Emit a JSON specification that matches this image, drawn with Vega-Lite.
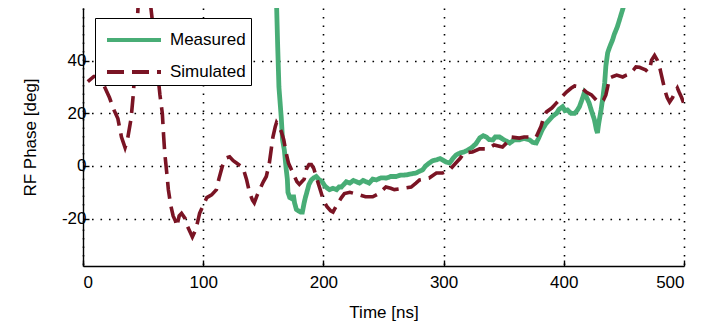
{
  "$schema": "https://vega.github.io/schema/vega-lite/v6.json",
  "width": 601,
  "height": 258,
  "autosize": {"type": "none"},
  "padding": {"left": 83, "top": 8, "right": 26, "bottom": 60},
  "background": "white",
  "config": {
    "view": {"stroke": null},
    "font": "Liberation Sans",
    "axis": {
      "domainColor": "black",
      "domainWidth": 1.4,
      "tickColor": "black",
      "tickWidth": 1.4,
      "tickSize": -6,
      "grid": true,
      "gridColor": "black",
      "gridOpacity": 1,
      "gridWidth": 1.6,
      "gridDash": [1.6, 6.9],
      "labelFont": "Liberation Sans",
      "labelFontSize": 17,
      "labelColor": "black",
      "titleFont": "Liberation Sans",
      "titleFontSize": 17,
      "titleFontWeight": "normal",
      "titleColor": "black"
    }
  },
  "datasets": {
    "measured": [
      {"series": "Measured", "time": 160, "phase": 85},
      {"series": "Measured", "time": 161, "phase": 62},
      {"series": "Measured", "time": 162, "phase": 45},
      {"series": "Measured", "time": 163, "phase": 30},
      {"series": "Measured", "time": 164, "phase": 24},
      {"series": "Measured", "time": 165, "phase": 18},
      {"series": "Measured", "time": 166, "phase": 10},
      {"series": "Measured", "time": 167.5, "phase": 6},
      {"series": "Measured", "time": 169, "phase": -1},
      {"series": "Measured", "time": 170, "phase": -5},
      {"series": "Measured", "time": 170.5, "phase": -10},
      {"series": "Measured", "time": 172, "phase": -12},
      {"series": "Measured", "time": 174, "phase": -12.5},
      {"series": "Measured", "time": 175, "phase": -11},
      {"series": "Measured", "time": 176, "phase": -14},
      {"series": "Measured", "time": 177.5, "phase": -16.5},
      {"series": "Measured", "time": 179, "phase": -17},
      {"series": "Measured", "time": 181, "phase": -17.5},
      {"series": "Measured", "time": 182.5, "phase": -17.5},
      {"series": "Measured", "time": 184, "phase": -14},
      {"series": "Measured", "time": 185, "phase": -12},
      {"series": "Measured", "time": 186, "phase": -10.4},
      {"series": "Measured", "time": 188, "phase": -7},
      {"series": "Measured", "time": 190, "phase": -5.3},
      {"series": "Measured", "time": 192, "phase": -4.5},
      {"series": "Measured", "time": 194, "phase": -4},
      {"series": "Measured", "time": 196, "phase": -5},
      {"series": "Measured", "time": 199, "phase": -6},
      {"series": "Measured", "time": 201, "phase": -7.5},
      {"series": "Measured", "time": 203.5, "phase": -8.5},
      {"series": "Measured", "time": 205, "phase": -9},
      {"series": "Measured", "time": 208, "phase": -8.5},
      {"series": "Measured", "time": 211, "phase": -9},
      {"series": "Measured", "time": 213, "phase": -8},
      {"series": "Measured", "time": 215, "phase": -8},
      {"series": "Measured", "time": 217, "phase": -7},
      {"series": "Measured", "time": 219, "phase": -6},
      {"series": "Measured", "time": 222, "phase": -6.5},
      {"series": "Measured", "time": 225, "phase": -5.5},
      {"series": "Measured", "time": 227.5, "phase": -6},
      {"series": "Measured", "time": 230, "phase": -6.5},
      {"series": "Measured", "time": 233, "phase": -5.5},
      {"series": "Measured", "time": 235.5, "phase": -6},
      {"series": "Measured", "time": 238, "phase": -6.5},
      {"series": "Measured", "time": 241, "phase": -5},
      {"series": "Measured", "time": 244, "phase": -5.3},
      {"series": "Measured", "time": 248, "phase": -4.5},
      {"series": "Measured", "time": 252.5, "phase": -4.6},
      {"series": "Measured", "time": 256, "phase": -4},
      {"series": "Measured", "time": 260.5, "phase": -4},
      {"series": "Measured", "time": 264, "phase": -3.5},
      {"series": "Measured", "time": 269, "phase": -3.4},
      {"series": "Measured", "time": 273, "phase": -3},
      {"series": "Measured", "time": 277, "phase": -2.7},
      {"series": "Measured", "time": 280, "phase": -2},
      {"series": "Measured", "time": 282.5, "phase": -1.5},
      {"series": "Measured", "time": 285, "phase": 0},
      {"series": "Measured", "time": 288, "phase": 1.1},
      {"series": "Measured", "time": 291, "phase": 2},
      {"series": "Measured", "time": 294, "phase": 2.3},
      {"series": "Measured", "time": 297, "phase": 2.8},
      {"series": "Measured", "time": 299, "phase": 2.3},
      {"series": "Measured", "time": 302, "phase": 1.5},
      {"series": "Measured", "time": 305, "phase": 1.1},
      {"series": "Measured", "time": 308, "phase": 3},
      {"series": "Measured", "time": 310.5, "phase": 4.2},
      {"series": "Measured", "time": 314, "phase": 5},
      {"series": "Measured", "time": 317, "phase": 5.3},
      {"series": "Measured", "time": 320, "phase": 6},
      {"series": "Measured", "time": 324, "phase": 7.2},
      {"series": "Measured", "time": 327, "phase": 8.5},
      {"series": "Measured", "time": 330, "phase": 10.6},
      {"series": "Measured", "time": 333, "phase": 11.5},
      {"series": "Measured", "time": 335.5, "phase": 11},
      {"series": "Measured", "time": 338, "phase": 10},
      {"series": "Measured", "time": 341, "phase": 9.9},
      {"series": "Measured", "time": 343, "phase": 11},
      {"series": "Measured", "time": 346.5, "phase": 11},
      {"series": "Measured", "time": 350, "phase": 10},
      {"series": "Measured", "time": 355, "phase": 8.7},
      {"series": "Measured", "time": 359, "phase": 10},
      {"series": "Measured", "time": 363, "phase": 9.9},
      {"series": "Measured", "time": 367, "phase": 10.5},
      {"series": "Measured", "time": 371.5, "phase": 9.9},
      {"series": "Measured", "time": 374, "phase": 9},
      {"series": "Measured", "time": 377, "phase": 8.7},
      {"series": "Measured", "time": 379, "phase": 10.5},
      {"series": "Measured", "time": 382, "phase": 13.7},
      {"series": "Measured", "time": 385, "phase": 16},
      {"series": "Measured", "time": 388, "phase": 17.5},
      {"series": "Measured", "time": 391, "phase": 19},
      {"series": "Measured", "time": 394, "phase": 20},
      {"series": "Measured", "time": 396, "phase": 21.5},
      {"series": "Measured", "time": 399, "phase": 22.5},
      {"series": "Measured", "time": 401, "phase": 21},
      {"series": "Measured", "time": 403, "phase": 21.3},
      {"series": "Measured", "time": 406, "phase": 20},
      {"series": "Measured", "time": 409, "phase": 20},
      {"series": "Measured", "time": 411, "phase": 21},
      {"series": "Measured", "time": 413, "phase": 22.5},
      {"series": "Measured", "time": 415, "phase": 25},
      {"series": "Measured", "time": 417, "phase": 27.7},
      {"series": "Measured", "time": 419, "phase": 26},
      {"series": "Measured", "time": 421, "phase": 24},
      {"series": "Measured", "time": 423, "phase": 21},
      {"series": "Measured", "time": 425.5, "phase": 17.5},
      {"series": "Measured", "time": 427, "phase": 14},
      {"series": "Measured", "time": 428, "phase": 12.5},
      {"series": "Measured", "time": 429, "phase": 16},
      {"series": "Measured", "time": 431, "phase": 21.3},
      {"series": "Measured", "time": 432.5, "phase": 26},
      {"series": "Measured", "time": 434, "phase": 31.5},
      {"series": "Measured", "time": 435, "phase": 38},
      {"series": "Measured", "time": 436.5, "phase": 43},
      {"series": "Measured", "time": 438, "phase": 45},
      {"series": "Measured", "time": 440.5, "phase": 47.8},
      {"series": "Measured", "time": 442, "phase": 50},
      {"series": "Measured", "time": 444.5, "phase": 52.8},
      {"series": "Measured", "time": 446, "phase": 55},
      {"series": "Measured", "time": 448, "phase": 58},
      {"series": "Measured", "time": 450, "phase": 61},
      {"series": "Measured", "time": 452, "phase": 66}
    ],
    "simulated": [
      {"series": "Simulated", "time": 4, "phase": 32},
      {"series": "Simulated", "time": 9, "phase": 34},
      {"series": "Simulated", "time": 14, "phase": 34},
      {"series": "Simulated", "time": 18, "phase": 30},
      {"series": "Simulated", "time": 22, "phase": 26},
      {"series": "Simulated", "time": 26, "phase": 21},
      {"series": "Simulated", "time": 29, "phase": 18},
      {"series": "Simulated", "time": 32, "phase": 11},
      {"series": "Simulated", "time": 35, "phase": 7},
      {"series": "Simulated", "time": 37, "phase": 10},
      {"series": "Simulated", "time": 40, "phase": 18},
      {"series": "Simulated", "time": 42, "phase": 28},
      {"series": "Simulated", "time": 44, "phase": 45},
      {"series": "Simulated", "time": 46, "phase": 62},
      {"series": "Simulated", "time": 49, "phase": 68},
      {"series": "Simulated", "time": 53, "phase": 66},
      {"series": "Simulated", "time": 56, "phase": 62},
      {"series": "Simulated", "time": 59, "phase": 50},
      {"series": "Simulated", "time": 62, "phase": 36},
      {"series": "Simulated", "time": 64, "phase": 27},
      {"series": "Simulated", "time": 66, "phase": 20},
      {"series": "Simulated", "time": 67, "phase": 12},
      {"series": "Simulated", "time": 68, "phase": 5},
      {"series": "Simulated", "time": 70, "phase": -4},
      {"series": "Simulated", "time": 71, "phase": -9},
      {"series": "Simulated", "time": 73, "phase": -15},
      {"series": "Simulated", "time": 75, "phase": -19},
      {"series": "Simulated", "time": 77, "phase": -21},
      {"series": "Simulated", "time": 78, "phase": -23},
      {"series": "Simulated", "time": 80, "phase": -19},
      {"series": "Simulated", "time": 82, "phase": -18},
      {"series": "Simulated", "time": 85, "phase": -20},
      {"series": "Simulated", "time": 87, "phase": -23},
      {"series": "Simulated", "time": 89, "phase": -25},
      {"series": "Simulated", "time": 91, "phase": -27},
      {"series": "Simulated", "time": 93, "phase": -25},
      {"series": "Simulated", "time": 95, "phase": -22},
      {"series": "Simulated", "time": 97, "phase": -18},
      {"series": "Simulated", "time": 100, "phase": -15},
      {"series": "Simulated", "time": 103, "phase": -12},
      {"series": "Simulated", "time": 107, "phase": -11},
      {"series": "Simulated", "time": 111, "phase": -9},
      {"series": "Simulated", "time": 113, "phase": -5},
      {"series": "Simulated", "time": 116, "phase": 0},
      {"series": "Simulated", "time": 119, "phase": 3},
      {"series": "Simulated", "time": 122, "phase": 3.5},
      {"series": "Simulated", "time": 125, "phase": 2},
      {"series": "Simulated", "time": 128, "phase": 1},
      {"series": "Simulated", "time": 131, "phase": 0},
      {"series": "Simulated", "time": 133, "phase": -0.5},
      {"series": "Simulated", "time": 136, "phase": -5},
      {"series": "Simulated", "time": 138.5, "phase": -10},
      {"series": "Simulated", "time": 141, "phase": -13},
      {"series": "Simulated", "time": 142.5, "phase": -14},
      {"series": "Simulated", "time": 145, "phase": -11},
      {"series": "Simulated", "time": 147, "phase": -9},
      {"series": "Simulated", "time": 150, "phase": -6},
      {"series": "Simulated", "time": 152.5, "phase": -4},
      {"series": "Simulated", "time": 155, "phase": 1},
      {"series": "Simulated", "time": 156.5, "phase": 6},
      {"series": "Simulated", "time": 158, "phase": 11},
      {"series": "Simulated", "time": 160, "phase": 15},
      {"series": "Simulated", "time": 161, "phase": 16.5},
      {"series": "Simulated", "time": 163, "phase": 15},
      {"series": "Simulated", "time": 165, "phase": 13},
      {"series": "Simulated", "time": 167, "phase": 10},
      {"series": "Simulated", "time": 169, "phase": 5},
      {"series": "Simulated", "time": 171, "phase": 1},
      {"series": "Simulated", "time": 173, "phase": -1},
      {"series": "Simulated", "time": 176, "phase": -4},
      {"series": "Simulated", "time": 178, "phase": -6},
      {"series": "Simulated", "time": 180, "phase": -7},
      {"series": "Simulated", "time": 182, "phase": -6},
      {"series": "Simulated", "time": 184, "phase": -5},
      {"series": "Simulated", "time": 186, "phase": -1},
      {"series": "Simulated", "time": 188, "phase": 0.5},
      {"series": "Simulated", "time": 190, "phase": 0.5},
      {"series": "Simulated", "time": 192, "phase": -1},
      {"series": "Simulated", "time": 194, "phase": -4},
      {"series": "Simulated", "time": 196, "phase": -7},
      {"series": "Simulated", "time": 198, "phase": -10},
      {"series": "Simulated", "time": 200, "phase": -13},
      {"series": "Simulated", "time": 203, "phase": -15.5},
      {"series": "Simulated", "time": 206, "phase": -17},
      {"series": "Simulated", "time": 208, "phase": -17.5},
      {"series": "Simulated", "time": 211, "phase": -15},
      {"series": "Simulated", "time": 213, "phase": -13.5},
      {"series": "Simulated", "time": 215, "phase": -12},
      {"series": "Simulated", "time": 217.5, "phase": -10.5},
      {"series": "Simulated", "time": 222, "phase": -10},
      {"series": "Simulated", "time": 226, "phase": -10.5},
      {"series": "Simulated", "time": 230, "phase": -11},
      {"series": "Simulated", "time": 235, "phase": -11.7},
      {"series": "Simulated", "time": 241, "phase": -11.7},
      {"series": "Simulated", "time": 246, "phase": -10.5},
      {"series": "Simulated", "time": 252, "phase": -8},
      {"series": "Simulated", "time": 256, "phase": -8.5},
      {"series": "Simulated", "time": 259, "phase": -9},
      {"series": "Simulated", "time": 266, "phase": -8.5},
      {"series": "Simulated", "time": 273, "phase": -8},
      {"series": "Simulated", "time": 277, "phase": -6.5},
      {"series": "Simulated", "time": 280, "phase": -5.3},
      {"series": "Simulated", "time": 288, "phase": -4.6},
      {"series": "Simulated", "time": 294, "phase": -2.7},
      {"series": "Simulated", "time": 299, "phase": -2.7},
      {"series": "Simulated", "time": 305, "phase": -1.5},
      {"series": "Simulated", "time": 310, "phase": 1},
      {"series": "Simulated", "time": 314, "phase": 3},
      {"series": "Simulated", "time": 317, "phase": 5},
      {"series": "Simulated", "time": 324, "phase": 5.3},
      {"series": "Simulated", "time": 330, "phase": 6.5},
      {"series": "Simulated", "time": 337, "phase": 6.5},
      {"series": "Simulated", "time": 342, "phase": 8},
      {"series": "Simulated", "time": 349, "phase": 7.2},
      {"series": "Simulated", "time": 353, "phase": 9},
      {"series": "Simulated", "time": 356, "phase": 11},
      {"series": "Simulated", "time": 363, "phase": 10.6},
      {"series": "Simulated", "time": 367, "phase": 11},
      {"series": "Simulated", "time": 372, "phase": 11},
      {"series": "Simulated", "time": 377, "phase": 11},
      {"series": "Simulated", "time": 379, "phase": 13},
      {"series": "Simulated", "time": 381, "phase": 15},
      {"series": "Simulated", "time": 383, "phase": 18},
      {"series": "Simulated", "time": 385.5, "phase": 20.5},
      {"series": "Simulated", "time": 390, "phase": 22},
      {"series": "Simulated", "time": 393, "phase": 23.5},
      {"series": "Simulated", "time": 396, "phase": 25},
      {"series": "Simulated", "time": 399, "phase": 26.5},
      {"series": "Simulated", "time": 402, "phase": 28},
      {"series": "Simulated", "time": 406, "phase": 29.5},
      {"series": "Simulated", "time": 409, "phase": 30.4},
      {"series": "Simulated", "time": 414, "phase": 30},
      {"series": "Simulated", "time": 419, "phase": 28},
      {"series": "Simulated", "time": 423, "phase": 27},
      {"series": "Simulated", "time": 427, "phase": 25},
      {"series": "Simulated", "time": 431, "phase": 24.3},
      {"series": "Simulated", "time": 433, "phase": 25},
      {"series": "Simulated", "time": 435, "phase": 27},
      {"series": "Simulated", "time": 436.5, "phase": 30},
      {"series": "Simulated", "time": 438, "phase": 33.4},
      {"series": "Simulated", "time": 441, "phase": 34},
      {"series": "Simulated", "time": 444, "phase": 34.5},
      {"series": "Simulated", "time": 449, "phase": 33.8},
      {"series": "Simulated", "time": 452, "phase": 34.5},
      {"series": "Simulated", "time": 455, "phase": 35},
      {"series": "Simulated", "time": 458, "phase": 36.5},
      {"series": "Simulated", "time": 460, "phase": 37.6},
      {"series": "Simulated", "time": 463, "phase": 37.5},
      {"series": "Simulated", "time": 465.5, "phase": 37},
      {"series": "Simulated", "time": 468, "phase": 36.5},
      {"series": "Simulated", "time": 470, "phase": 35.7},
      {"series": "Simulated", "time": 472, "phase": 38},
      {"series": "Simulated", "time": 473, "phase": 40.2},
      {"series": "Simulated", "time": 475.5, "phase": 42},
      {"series": "Simulated", "time": 478, "phase": 40},
      {"series": "Simulated", "time": 480, "phase": 37},
      {"series": "Simulated", "time": 481, "phase": 35},
      {"series": "Simulated", "time": 483, "phase": 31},
      {"series": "Simulated", "time": 484, "phase": 28.8},
      {"series": "Simulated", "time": 486, "phase": 26},
      {"series": "Simulated", "time": 488, "phase": 24.3},
      {"series": "Simulated", "time": 490.5, "phase": 26},
      {"series": "Simulated", "time": 492, "phase": 27.5},
      {"series": "Simulated", "time": 494.5, "phase": 29.6},
      {"series": "Simulated", "time": 496, "phase": 28},
      {"series": "Simulated", "time": 498, "phase": 26},
      {"series": "Simulated", "time": 500, "phase": 23.5}
    ]
  },
  "encoding": {
    "x": {
      "field": "time",
      "type": "quantitative",
      "scale": {"domain": [0, 500], "nice": false},
      "axis": {
        "values": [0, 100, 200, 300, 400, 500],
        "title": "Time [ns]",
        "labelPadding": 14,
        "titleY": 46,
        "titleBaseline": "middle"
      }
    },
    "y": {
      "field": "phase",
      "type": "quantitative",
      "scale": {"domain": [-38, 60], "nice": false, "zero": false},
      "axis": {
        "values": [-20, 0, 20, 40],
        "labelExpr": "toString(datum.value)",
        "title": "RF Phase [deg]",
        "labelPadding": 3,
        "titleX": -53,
        "titleY": 129,
        "titleAngle": 270,
        "titleAlign": "center",
        "titleBaseline": "middle"
      }
    },
    "color": {
      "field": "series",
      "type": "nominal",
      "scale": {"domain": ["Measured", "Simulated"], "range": ["#48ad76", "#7a1424"]},
      "legend": {
        "orient": "none",
        "legendX": 12,
        "legendY": 10,
        "title": null,
        "strokeColor": "black",
        "fillColor": "white",
        "padding": 5,
        "symbolType": "M-0.667,0H2.933",
        "symbolSize": 900,
        "symbolStrokeWidth": 4,
        "labelFont": "Liberation Sans",
        "labelFontSize": 17,
        "labelColor": "black",
        "labelOffset": 36,
        "rowPadding": 7
      }
    },
    "strokeDash": {
      "field": "series",
      "type": "nominal",
      "scale": {"domain": ["Measured", "Simulated"], "range": [[1, 0], [17, 8]]},
      "legend": {
        "orient": "none",
        "legendX": 12,
        "legendY": 10,
        "title": null
      }
    }
  },
  "layer": [
    {
      "data": {"name": "measured"},
      "mark": {"type": "line", "strokeWidth": 4.8, "clip": true, "strokeJoin": "miter"}
    },
    {
      "data": {"name": "simulated"},
      "mark": {"type": "line", "strokeWidth": 3.6, "clip": true, "strokeCap": "butt"}
    }
  ]
}
